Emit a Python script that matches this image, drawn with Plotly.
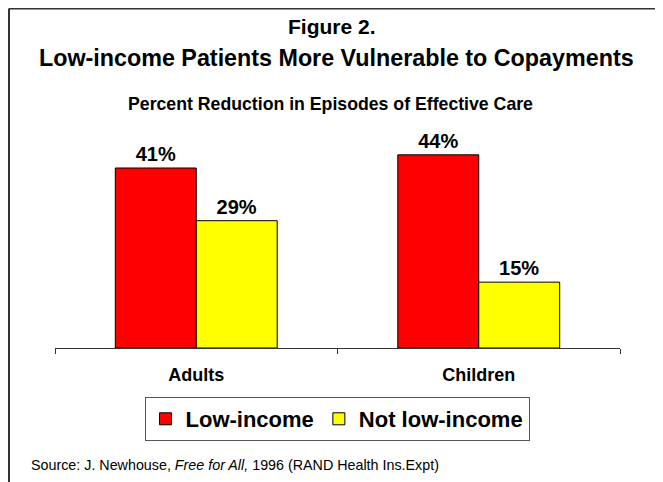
import plotly.graph_objects as go

categories = ["Adults", "Children"]
low_income = [41, 44]
not_low_income = [29, 15]
series_names = ["Low-income", "Not low-income"]

# The page body has an 8px margin, so the figure is drawn at (8, 8)
OFF = 8
W, H = 663 - OFF, 482 - OFF
FONT = "Arial, 'Liberation Sans', sans-serif"

def px_x(x):
    return (x - OFF) / W

def px_y(y):
    return 1 - (y - OFF) / H

fig = go.Figure()
fig.add_trace(go.Bar(
    x=categories, y=low_income, name=series_names[0],
    marker=dict(color="#FF0000", line=dict(color="#000000", width=1)),
    texttemplate="%{y}%", textposition="outside",
    textfont=dict(family=FONT, size=20, color="#000000", weight="bold"),
    cliponaxis=False,
))
fig.add_trace(go.Bar(
    x=categories, y=not_low_income, name=series_names[1],
    marker=dict(color="#FFFF00", line=dict(color="#000000", width=1)),
    texttemplate="%{y}%", textposition="outside",
    textfont=dict(family=FONT, size=20, color="#000000", weight="bold"),
    cliponaxis=False,
))

fig.update_layout(
    width=W, height=H,
    margin=dict(l=0, r=0, t=0, b=0),
    paper_bgcolor="white", plot_bgcolor="white",
    barmode="group", bargap=0.427, bargroupgap=0,
    showlegend=True,
    legend=dict(
        orientation="h", x=px_x(337), xanchor="center",
        y=px_y(397), yanchor="top",
        bordercolor="#555555", borderwidth=1,
        font=dict(family=FONT, size=22, color="#000000", weight="bold"),
        itemwidth=30, traceorder="normal",
    ),
    xaxis=dict(
        domain=[px_x(55), px_x(620)],
        showline=True, linecolor="#333333", linewidth=1,
        ticks="outside", tickson="boundaries", ticklen=5,
        tickcolor="#333333", tickwidth=1,
        tickfont=dict(family=FONT, size=18, color="#000000", weight="bold"),
        ticklabelstandoff=10,
        showgrid=False, zeroline=False,
    ),
    yaxis=dict(
        domain=[px_y(348), px_y(348 - 50 * 4.39)],
        range=[0, 50],
        visible=False, showgrid=False, zeroline=False,
    ),
    font=dict(family=FONT),
)

fig.add_annotation(text="<b>Figure 2.</b>", x=px_x(331.5), y=px_y(27), xref="paper", yref="paper",
                   showarrow=False, font=dict(family=FONT, size=21, color="#000000"),
                   xanchor="center", yanchor="middle")
fig.add_annotation(text="<b>Low-income Patients More Vulnerable to Copayments</b>", x=px_x(336.5), y=px_y(58),
                   xref="paper", yref="paper", showarrow=False,
                   font=dict(family=FONT, size=23.3, color="#000000"),
                   xanchor="center", yanchor="middle")
fig.add_annotation(text="<b>Percent Reduction in Episodes of Effective Care</b>", x=px_x(330.5), y=px_y(104),
                   xref="paper", yref="paper", showarrow=False,
                   font=dict(family=FONT, size=17.7, color="#000000"),
                   xanchor="center", yanchor="middle")
fig.add_annotation(text="Source: J. Newhouse, <i>Free for All,</i> 1996 (RAND Health Ins.Expt)",
                   x=px_x(29), y=px_y(465), xref="paper", yref="paper", showarrow=False,
                   font=dict(family=FONT, size=14.3, color="#000000"),
                   xanchor="left", yanchor="middle")

# frame (top and left edges visible in reference)
fig.add_shape(type="line", xref="paper", yref="paper", x0=1 / W, y0=1 - 0.5 / H, x1=1.0, y1=1 - 0.5 / H,
              line=dict(color="#333333", width=2))
fig.add_shape(type="line", xref="paper", yref="paper", x0=1 / W, y0=1 - 0.5 / H, x1=1 / W, y1=0,
              line=dict(color="#333333", width=2))

fig.write_html("out.html")
